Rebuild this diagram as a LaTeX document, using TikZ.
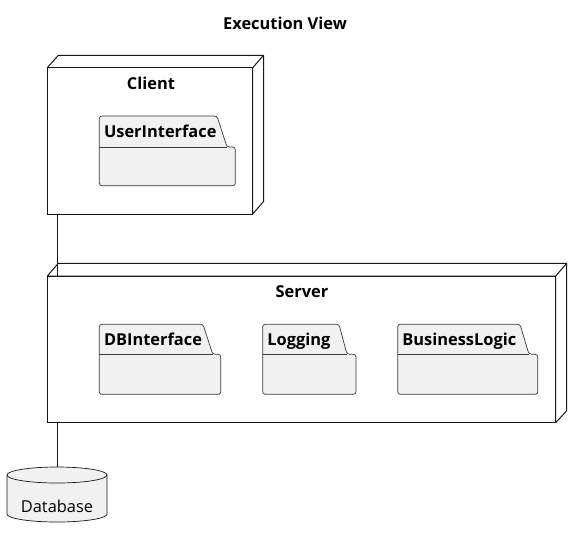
\documentclass[tikz,border=0pt]{standalone}
\usepackage{fontspec}
\setmainfont{Open Sans}
\definecolor{pfill}{HTML}{F1F1F1}
\definecolor{pline}{HTML}{181818}
\newcommand\pkgbox[9]{% name, x0, x1, tabTop, bodyTop, bottom, tabRightTop, tabRightBottom, text
  \draw[pkgline] (#2,#6) -- (#2,#4) -- (#7,#4) -- (#8,#5) -- (#3,#5) -- (#3,#6) -- cycle;
  \draw[pkgsep] (#2,#5) -- (#8,#5);
  \node[pkglabel] (#1) at (#2+4.5,#4+21) {#9};
}
\begin{document}
\begin{tikzpicture}[x=1pt,y=-1pt,
  nodebox/.style={draw=pline,line width=1pt,fill=white,inner sep=0pt},
  nodeback/.style={draw=pline,line width=1pt,fill=white,line join=round},
  pkgline/.style={draw=pline!85,line width=0.7pt,fill=pfill,rounded corners=2.5pt},
  pkgsep/.style={draw=pline!85,line width=0.7pt},
  pkglabel/.style={anchor=base west,font=\bfseries\fontsize{16.4}{18}\selectfont,inner sep=0pt},
  nodelabel/.style={anchor=base,font=\bfseries\fontsize{16.4}{18}\selectfont,inner sep=0pt},
  conn/.style={draw=pline,line width=1pt}]
\useasboundingbox (0,0) rectangle (586,542);
\node[anchor=base,font=\bfseries\fontsize{16.4}{18}\selectfont] (title) at (285,29) {Execution View};
% Client
\draw[nodeback] (47.3,67.7) -- (58.3,55.3) -- (263.5,55.3) -- (263.5,201.5) -- (252.7,214) -- (252.7,67.7) -- cycle;
\draw[nodeback] (252.7,67.7) -- (263.5,55.3);
\node[nodebox,minimum width=205.4pt,minimum height=146.3pt] (client) at (150,140.85) {};
\node[nodelabel] (clientlbl) at (151,89) {Client};
\pkgbox{ui}{99.3}{235.3}{116}{147}{185.7}{217}{227}{UserInterface}
% Server
\draw[nodeback] (47.3,276) -- (58.3,263.3) -- (566.7,263.3) -- (566.7,410.7) -- (555.7,422.7) -- (555.7,276) -- cycle;
\draw[nodeback] (555.7,276) -- (566.7,263.3);
\node[nodebox,minimum width=508.4pt,minimum height=146.7pt] (server) at (301.5,349.35) {};
\node[nodelabel] (serverlbl) at (302,297) {Server};
\pkgbox{dbi}{99.3}{220.7}{324.3}{354.3}{394.3}{203}{212.7}{DBInterface}
\pkgbox{log}{262.7}{356}{324.3}{354.3}{394.3}{339}{347}{Logging}
\pkgbox{bl}{397.7}{537.7}{324.3}{354.3}{394.3}{520}{529}{BusinessLogic}
% Database
\node[inner sep=0pt,minimum width=100pt,minimum height=55pt] (db) at (57,494.5) {};
\draw[draw=pline,line width=0.7pt,fill=pfill] (7,475) -- (7,514) arc[start angle=180,end angle=0,x radius=50,y radius=8] -- (107,475) arc[start angle=0,end angle=-180,x radius=50,y radius=8] -- cycle;
\draw[draw=pline,line width=0.7pt] (7,475) arc[start angle=180,end angle=0,x radius=50,y radius=8];
\node[anchor=base,font=\fontsize{16.4}{18}\selectfont] (dblbl) at (57,512) {Database};
% connectors
\draw[conn] (db.north |- client.south) -- (db.north |- server.north);
\draw[conn] (db.north |- server.south) -- (db.north);
\end{tikzpicture}
\end{document}
